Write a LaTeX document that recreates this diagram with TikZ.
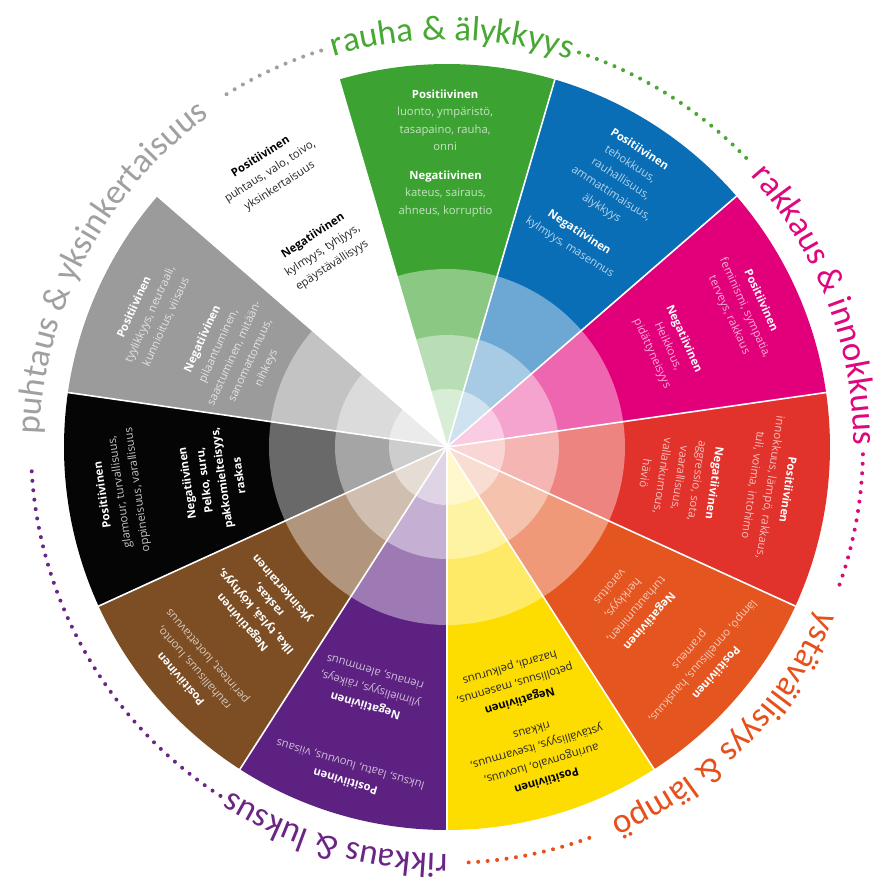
\documentclass[tikz,border=0pt]{standalone}
\usepackage{fontspec}
\setmainfont{Open Sans}
\newfontfamily\labfam{Carlito}
\usetikzlibrary{decorations.text}
\definecolor{cgreen}{RGB}{60,163,50}
\definecolor{cblue}{RGB}{10,110,182}
\definecolor{cmag}{RGB}{226,0,122}
\definecolor{cred}{RGB}{225,50,43}
\definecolor{corange}{RGB}{228,85,31}
\definecolor{cyellow}{RGB}{253,220,0}
\definecolor{cpurple}{RGB}{93,34,129}
\definecolor{cbrown}{RGB}{125,78,36}
\definecolor{cblack}{RGB}{5,5,5}
\definecolor{cgray}{RGB}{155,155,155}
\definecolor{cwhite}{RGB}{255,255,255}
\definecolor{lgreen}{RGB}{71,168,50}
\definecolor{lmag}{RGB}{224,6,126}
\definecolor{lorange}{RGB}{232,80,27}
\definecolor{lpurple}{RGB}{106,37,133}
\definecolor{lgray}{RGB}{160,160,160}
\colorlet{bgreen}{white!70!cgreen}
\colorlet{bblue}{white!70!cblue}
\colorlet{bmag}{white!70!cmag}
\colorlet{bred}{white!70!cred}
\colorlet{borange}{white!70!corange}
\colorlet{bpurple}{white!70!cpurple}
\colorlet{bbrown}{white!70!cbrown}
\colorlet{bblack}{white!78!black}
\colorlet{bgray}{white!72!cgray}
\colorlet{bdark}{black!85}
\newcommand\hh[2]{{\color{#1}\bfseries #2}}
\newcommand\labfont{\labfam\fontsize{35}{35}\selectfont}
\begin{document}
\begin{tikzpicture}[x=1pt,y=1pt,
  wt/.style={font=\fontsize{11.3}{17.5}\selectfont, align=center, inner sep=0pt, anchor=north, text=#1},
  wtb/.style={wt=#1, font=\fontsize{11.3}{17.5}\selectfont\bfseries},
  dots/.style={line width=4pt, line cap=round, dash pattern=on 0pt off 9.5pt}]
\fill[white] (-447,-434) rectangle (430,447);
\useasboundingbox (-447,-434) rectangle (430,447);
\def\W{32.7272727}
\foreach \k/\col in {0/cgreen,1/cblue,2/cmag,3/cred,4/corange,5/cyellow,6/cpurple,7/cbrown,8/cblack,9/cgray,10/cwhite}{
  \pgfmathsetmacro\a{90-\k*\W-\W/2}
  \pgfmathsetmacro\b{90-\k*\W+\W/2}
  \fill[\col] (0,0) -- (\a:383pt) arc[start angle=\a, end angle=\b, radius=383pt] -- cycle;
  \fill[\col!60!white] (0,0) -- (\a:178pt) arc[start angle=\a, end angle=\b, radius=178pt] -- cycle;
  \fill[\col!36!white] (0,0) -- (\a:112pt) arc[start angle=\a, end angle=\b, radius=112pt] -- cycle;
  \fill[\col!20!white] (0,0) -- (\a:58pt) arc[start angle=\a, end angle=\b, radius=58pt] -- cycle;
}
\foreach \k in {0,...,10}{
  \pgfmathsetmacro\a{90-\k*\W+\W/2}
  \draw[white, line width=1.6pt] (0,0) -- (\a:386pt);
}
% green
\node[wt=bgreen, rotate=0] (gp) at (90.3:357.5pt) {\hh{white}{Positiivinen}\\luonto, ympäristö,\\tasapaino, rauha,\\onni};
\node[wt=bgreen, rotate=0] (gn) at (90.3:276.5pt) {\hh{white}{Negatiivinen}\\kateus, sairaus,\\ahneus, korruptio};
% blue
\node[wt=bblue, rotate=-32.73] (bp) at (57.1:360pt) {\hh{white}{Positiivinen}\\tehokkuus,\\rauhallisuus,\\ammattimaisuus,\\älykkyys};
\node[wt=bblue, rotate=-32.73] (bn) at (58.3:257.5pt) {\hh{white}{Negatiivinen}\\kylmyys, masennus};
% magenta
\node[wt=bmag, rotate=-65.45] (mp) at (25.0:352pt) {\hh{white}{Positiivinen}\\feminismi, sympatia,\\terveys, rakkaus};
\node[wt=bmag, rotate=-65.45] (mn) at (24.5:266pt) {\hh{white}{Negatiivinen}\\Heikkous,\\pidättyneisyys};
% red
\node[wt=bred, rotate=-98.18] (rp) at (-7.2:348.5pt) {\hh{white}{Positiivinen}\\innokkuus, lämpö, rakkaus,\\tuli, voima, intohimo};
\node[wt=bred, rotate=-98.18] (rn) at (-7.7:275pt) {\hh{white}{Negatiivinen}\\aggressio, sota,\\vaarallisuus,\\vallankumous,\\häviö};
% orange
\node[wt=borange, rotate=-130.91] (op) at (-40.0:356.5pt) {\hh{white}{Positiivinen}\\lämpö, onnellisuus, hauskuus,\\prameus};
\node[wt=borange, rotate=-130.91] (on) at (-40.7:272.3pt) {\hh{white}{Negatiivinen}\\turhautuminen,\\herkkyys,\\varoitus};
% yellow
\node[wt=bdark, rotate=-163.64] (yp) at (-73.4:353.5pt) {\hh{black}{Positiivinen}\\auringonvalo, luovuus,\\ystävällisyys, itsevarmuus,\\rikkaus};
\node[wt=bdark, rotate=-163.64] (yn) at (-74:269.5pt) {\hh{black}{Negatiivinen}\\petollisuus, masennus,\\hazardi, pelkuruus};
% purple
\node[wt=bpurple, rotate=163.64] (pp) at (-106.9:354.5pt) {\hh{white}{Positiivinen}\\luksus, laatu, luovuus, viisaus};
\node[wt=bpurple, rotate=163.64] (pn) at (-107.5:276.5pt) {\hh{white}{Negatiivinen}\\ylimielisyys, räikeys,\\rienaus, alemmuus};
% brown
\node[wt=bbrown, rotate=130.91] (brp) at (-138.9:358.5pt) {\hh{white}{Positiivinen}\\rauhallisuus, luonto,\\perinteet, luotettavuus};
\node[wtb=white, rotate=130.91] (brn) at (-139.3:275pt) {Negatiivinen\\Ilka, tylsä, köyhyys,\\raskas,\\yksinkertainen};
% black
\node[wt=bblack, rotate=98.18] (kp) at (187.9:353pt) {\hh{white}{Positiivinen}\\glamour, turvallisuus,\\oppineisuus, varallisuus};
\node[wtb=white, rotate=98.18] (kn) at (187.9:267.3pt) {Negatiivinen\\Pelko, suru,\\pakkomielteisyys,\\raskas};
% gray
\node[wt=bgray, rotate=65.45] (gyp) at (155.9:348pt) {\hh{white}{Positiivinen}\\tyylikkyys, neutraali,\\kunnioitus, viisaus};
\node[wt=bgray, rotate=65.45] (gyn) at (156.1:272.8pt) {\hh{white}{Negatiivinen}\\pilaantuminen,\\saastuminen, mitään-\\sanomattomuus,\\nihkeys};
% white
\node[wt=bdark, rotate=32.73] (wp) at (122.7:350.5pt) {\hh{black}{Positiivinen}\\puhtaus, valo, toivo,\\yksinkertaisuus};
\node[wt=bdark, rotate=32.73] (wn) at (122.4:255.7pt) {\hh{black}{Negatiivinen}\\kylmyys, tyhjyys,\\epäystävällisyys};
% outer dotted arcs
\draw[dots, lgray] (122:416pt) arc[start angle=122, end angle=107.5, radius=416pt];
\draw[dots, lgreen] (71.5:416pt) arc[start angle=71.5, end angle=43, radius=416pt];
\draw[dots, lmag] (-1:416pt) arc[start angle=-1, end angle=-20.5, radius=416pt];
\draw[dots, lorange] (-70:416pt) arc[start angle=-70, end angle=-87.5, radius=416pt];
\draw[dots, lpurple] (-123:416pt) arc[start angle=-123, end angle=-177.5, radius=416pt];
% outer labels
\path[decorate, decoration={text along path, text align=center, text={|\labfont\color{lgreen}|rauha {\&} älykkyys}}]
  (129.3:407pt) arc[start angle=129.3, end angle=49.3, radius=407pt];
\path[decorate, decoration={text along path, text align=center, text={|\labfont\color{lmag}|rakkaus {\&} innokkuus}}]
  (61:407pt) arc[start angle=61, end angle=-19, radius=407pt];
\path[decorate, decoration={text along path, text align=center, text={|\labfont\color{lorange}|ystävällisyys {\&} lämpö}}]
  (-5:407pt) arc[start angle=-5, end angle=-85, radius=407pt];
\path[decorate, decoration={text along path, text align=center, text={|\labfont\color{lpurple}|rikkaus {\&} luksus}}]
  (-66:407pt) arc[start angle=-66, end angle=-146, radius=407pt];
\path[decorate, decoration={text along path, text align=center, text={|\labfont\color{lgray}|puhtaus {\&} yksinkertaisuus}}]
  (197:407pt) arc[start angle=197, end angle=107, radius=407pt];
\end{tikzpicture}
\end{document}
